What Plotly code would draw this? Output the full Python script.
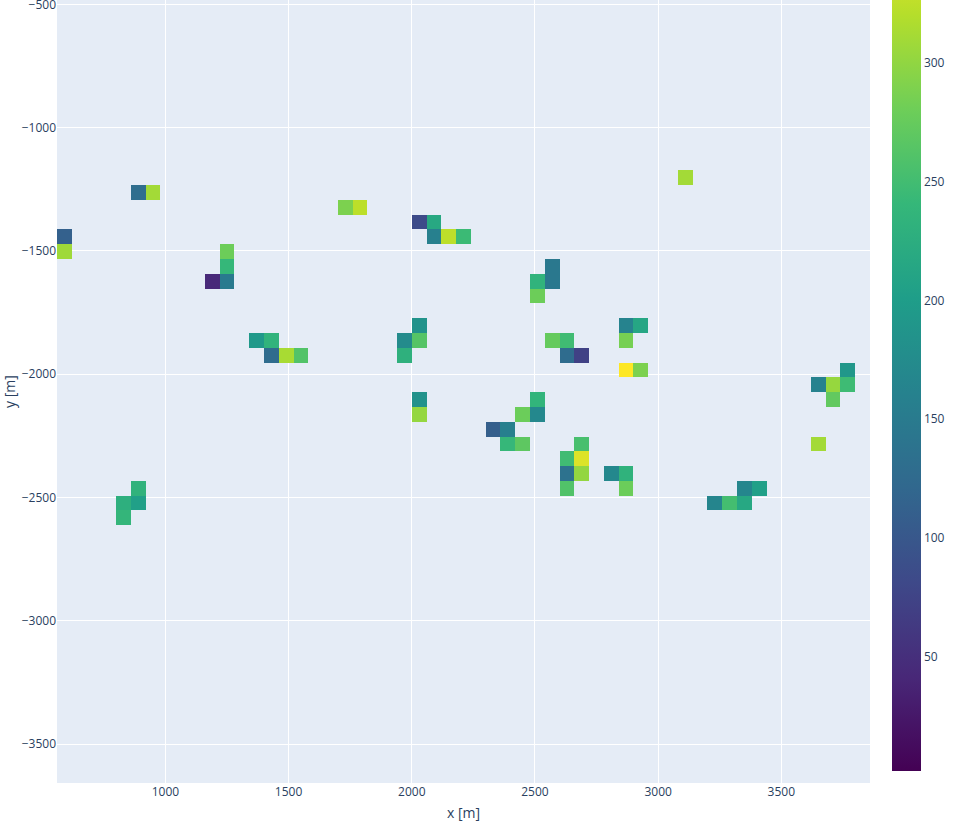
import numpy as np
import plotly.graph_objects as go

# Cell centres (metres) and values
cell_x = [590, 590,
          890, 950,
          1250, 1250, 1190, 1250,
          1730, 1790,
          2030, 2090, 2090, 2150, 2210,
          3110,
          1370, 1430, 1430, 1490, 1550,
          2030, 1970, 2030, 1970,
          2570, 2510, 2570, 2510,
          2570, 2630, 2630, 2690,
          2870, 2930, 2870,
          2870, 2930,
          2030, 2030,
          2510, 2450, 2510, 2330, 2390, 2390, 2450,
          2690, 2630, 2690, 2630, 2690, 2630,
          2810, 2870, 2870,
          3770, 3650, 3710, 3770, 3710,
          3650,
          3350, 3410, 3230, 3290, 3350,
          890, 830, 890, 830]
cell_y = [-1443, -1503,
          -1263, -1263,
          -1503, -1563, -1623, -1623,
          -1323, -1323,
          -1383, -1383, -1443, -1443, -1443,
          -1203,
          -1863, -1863, -1923, -1923, -1923,
          -1803, -1863, -1863, -1923,
          -1563, -1623, -1623, -1683,
          -1863, -1863, -1923, -1923,
          -1803, -1803, -1863,
          -1983, -1983,
          -2103, -2163,
          -2103, -2163, -2163, -2223, -2223, -2283, -2283,
          -2283, -2343, -2343, -2403, -2403, -2463,
          -2403, -2403, -2463,
          -1983, -2043, -2043, -2043, -2103,
          -2283,
          -2463, -2463, -2523, -2523, -2523,
          -2463, -2523, -2523, -2583]
cell_z = [112, 308,
          130, 310,
          279, 240, 43, 149,
          288, 324,
          84, 217, 158, 324, 245,
          310,
          193, 234, 127, 313, 261,
          185, 174, 263, 230,
          145, 234, 145, 279,
          274, 248, 127, 72,
          163, 213, 285,
          360, 288,
          184, 302,
          236, 278, 170, 109, 158, 241, 269,
          254, 248, 342, 136, 301, 260,
          170, 232, 278,
          191, 161, 303, 247, 272,
          310,
          166, 204, 165, 251, 216,
          233, 228, 204, 238]

cell_size = 60
z_min, z_max = 1.7, 360

# Build the regular grid the heatmap needs
x_grid = np.arange(590, 3830 + 1, cell_size)
y_grid = np.arange(-3603, -483 + 1, cell_size)
z = np.full((len(y_grid), len(x_grid)), np.nan)
for cx, cy, cz in zip(cell_x, cell_y, cell_z):
    ix = int(round((cx - x_grid[0]) / cell_size))
    iy = int(round((cy - y_grid[0]) / cell_size))
    z[iy, ix] = cz

fig = go.Figure(go.Heatmap(
    x=x_grid, y=y_grid, z=z,
    colorscale="Viridis", zmin=z_min, zmax=z_max,
    colorbar=dict(
        lenmode="pixels", len=851, yanchor="bottom", y=(783 - 771.3) / 783,
        ypad=0, xanchor="left", x=1.027, xpad=0, thickness=29,
        tick0=0, dtick=50,
    ),
))

fig.update_layout(
    width=957, height=822, autosize=False,
    margin=dict(l=57, r=87, t=0, b=39),
    xaxis=dict(title=dict(text="x [m]"), range=[560, 3860], automargin=False,
               ticklabeloverflow="allow"),
    yaxis=dict(title=dict(text="y [m]"), range=[-3658, -482.5], automargin=False,
               ticklabeloverflow="allow"),
)

fig.write_html("out.html", config={"displayModeBar": False},
               post_script="document.body.style.margin='0';")
